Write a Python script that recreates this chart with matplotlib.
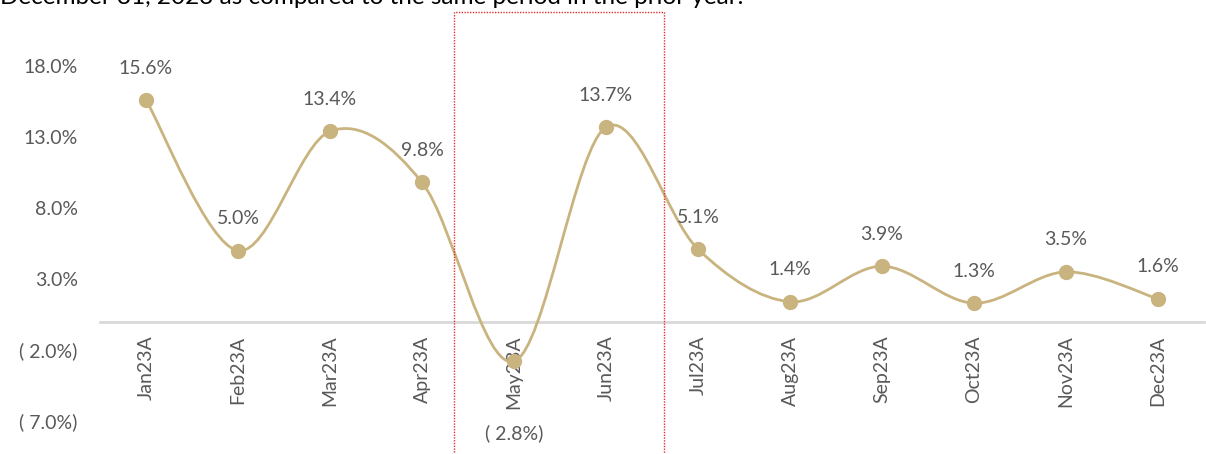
import matplotlib.pyplot as plt
from matplotlib.path import Path
from matplotlib.patches import PathPatch, Rectangle

months = ['Jan23A', 'Feb23A', 'Mar23A', 'Apr23A', 'May23A', 'Jun23A',
          'Jul23A', 'Aug23A', 'Sep23A', 'Oct23A', 'Nov23A', 'Dec23A']
growth = [15.6, 5.0, 13.4, 9.8, -2.8, 13.7, 5.1, 1.4, 3.9, 1.3, 3.5, 1.6]
yticks = [18, 13, 8, 3, -2, -7]

gold = '#C9B47F'
grey = '#595959'
plt.rcParams['font.family'] = ['Lato', 'DejaVu Sans']


def fmt(v):
    return '%.1f%%' % v if v >= 0 else '( %.1f%%)' % -v


fig = plt.figure(figsize=(12.06, 4.54), dpi=100)
ax = fig.add_axes([100 / 1206, 33 / 454, 1104 / 1206, 355 / 454])

xs = list(range(len(growth)))
# smooth line like excel (catmull-rom bezier)
verts = [(xs[0], growth[0])]
codes = [Path.MOVETO]
for i in range(len(xs) - 1):
    p0 = (xs[max(i - 1, 0)], growth[max(i - 1, 0)])
    p1 = (xs[i], growth[i])
    p2 = (xs[i + 1], growth[i + 1])
    p3 = (xs[min(i + 2, len(xs) - 1)], growth[min(i + 2, len(xs) - 1)])
    c1 = (p1[0] + (p2[0] - p0[0]) / 6, p1[1] + (p2[1] - p0[1]) / 6)
    c2 = (p2[0] - (p3[0] - p1[0]) / 6, p2[1] - (p3[1] - p1[1]) / 6)
    verts += [c1, c2, p2]
    codes += [Path.CURVE4] * 3
ax.add_patch(PathPatch(Path(verts, codes), facecolor='none', edgecolor=gold, lw=2, zorder=3))
ax.plot(xs, growth, 'o', color=gold, ms=10, zorder=4)

for x, v in zip(xs, growth):
    if v < 0:
        ax.annotate(fmt(v), (x, v), xytext=(0, -52), textcoords='offset points',
                    ha='center', va='center', fontsize=14, color=grey, annotation_clip=False)
    else:
        ax.annotate(fmt(v), (x, v), xytext=(0, 23), textcoords='offset points',
                    ha='center', va='center', fontsize=14, color=grey)

ax.set_xlim(-0.5, 11.5)
ax.set_ylim(-7, 18)
ax.set_yticks(yticks)
ax.set_yticklabels([fmt(t) for t in yticks])
ax.set_xticks(xs)
ax.set_xticklabels(months)
ax.tick_params(length=0, labelsize=14, colors=grey)
ax.tick_params(axis='y', pad=16)
ax.tick_params(axis='x', pad=10, labelrotation=90)
for s in ['top', 'right', 'left']:
    ax.spines[s].set_visible(False)
ax.spines['bottom'].set_position(('data', 0))
ax.spines['bottom'].set_color('#D9D9D9')
ax.spines['bottom'].set_linewidth(2)

fig.text(0, 1 - 4 / 454, 'December 31, 2023 as compared to the same period in the prior year.',
         fontsize=17.5, va='baseline', ha='left', color='black')
fig.add_artist(Rectangle((454 / 1206, -0.05), 210 / 1206, 1.05 - 12 / 454,
                         transform=fig.transFigure, fill=False, ec='#E03030',
                         ls=(0, (1, 1)), lw=1))

plt.savefig('out.png')
